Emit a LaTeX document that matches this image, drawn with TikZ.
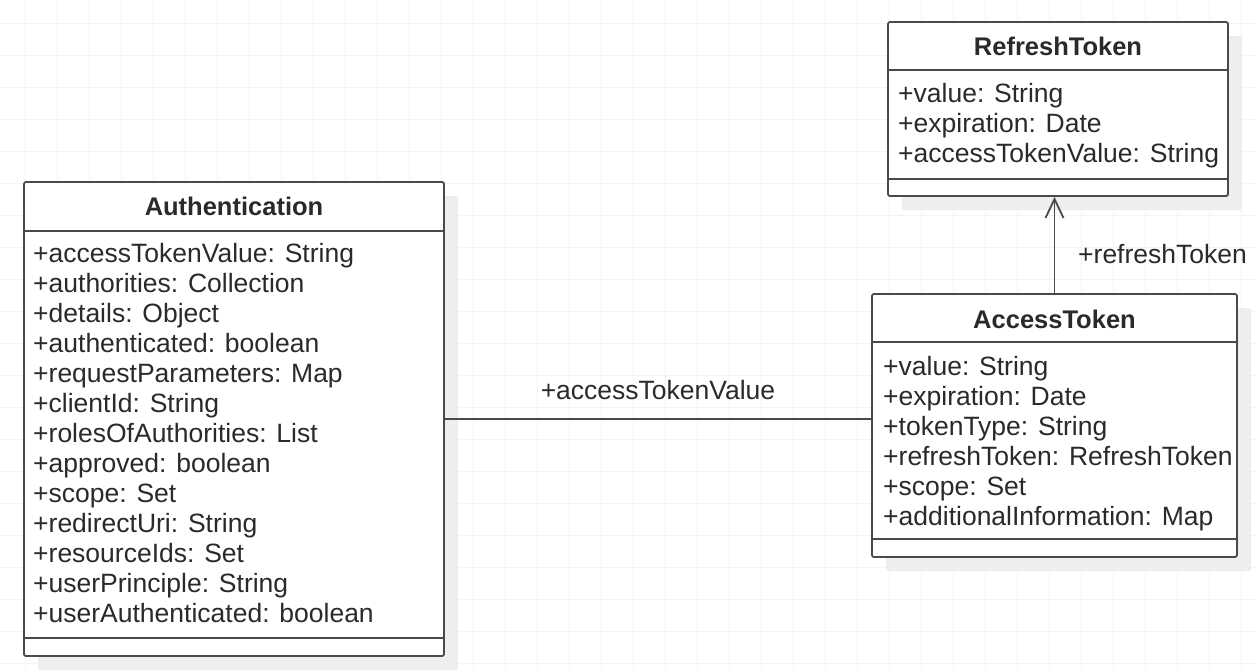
\documentclass[tikz,border=0pt]{standalone}
\usepackage{fontspec}
\setmainfont{Liberation Sans}
\usetikzlibrary{arrows.meta,calc}
\definecolor{linec}{HTML}{4A4A4A}
\definecolor{textc}{HTML}{2A2A2A}
\definecolor{gridc}{HTML}{F4F4F4}
\definecolor{shadowc}{HTML}{EEEEEE}
\tikzset{
 classbox/.style={draw=linec, line width=1.8pt, fill=white, rounded corners=2pt, inner sep=0pt},
 shadowbox/.style={fill=shadowc, draw=none, inner sep=0pt, rounded corners=2pt},
 sepline/.style={draw=linec, line width=1.8pt},
 gridline/.style={draw=gridc, line width=1pt},
 attr/.style={anchor=base west, inner sep=0pt, text=textc, font=\fontsize{26.5}{30}\selectfont},
 ttl/.style={anchor=base, inner sep=0pt, text=textc, font=\fontsize{25.5}{30}\selectfont\bfseries},
 assoc/.style={draw=linec, line width=1.8pt},
 lbl/.style={inner sep=0pt, text=textc, font=\fontsize{26.5}{30}\selectfont},
}
\begin{document}
\begin{tikzpicture}[x=1pt,y=-1pt]
\useasboundingbox (0,0) rectangle (1256,670);
\fill[white] (0,0) rectangle (1256,670);
\foreach \x in {25,57,...,1256} \draw[gridline] (\x,0) -- (\x,670);
\foreach \y in {23,55,...,670} \draw[gridline] (0,\y) -- (1256,\y);

% shadows
\node[shadowbox, minimum width=420pt, minimum height=474pt] (auths) at (248,433) {};
\node[shadowbox, minimum width=340pt, minimum height=174pt] (rts) at (1072,123) {};
\node[shadowbox, minimum width=365pt, minimum height=263pt] (accs) at (1068.5,439.5) {};

% boxes
\node[classbox, minimum width=420pt, minimum height=474pt] (auth) at (234,419) {};
\node[classbox, minimum width=340pt, minimum height=174pt] (rt) at (1058,109) {};
\node[classbox, minimum width=365pt, minimum height=263pt] (acc) at (1054.5,425.5) {};

% compartments
\draw[sepline] ($(auth.north west)+(0,50)$) -- ($(auth.north east)+(0,50)$);
\draw[sepline] ($(auth.south west)+(0,-19)$) -- ($(auth.south east)+(0,-19)$);
\draw[sepline] ($(rt.north west)+(0,49)$) -- ($(rt.north east)+(0,49)$);
\draw[sepline] ($(rt.south west)+(0,-18)$) -- ($(rt.south east)+(0,-18)$);
\draw[sepline] ($(acc.north west)+(0,49)$) -- ($(acc.north east)+(0,49)$);
\draw[sepline] ($(acc.south west)+(0,-19)$) -- ($(acc.south east)+(0,-19)$);

% titles
\node[ttl] (authT) at (234,215) {Authentication};
\node[ttl] (rtT) at (1058,55) {RefreshToken};
\node[ttl] (accT) at (1054.5,328) {AccessToken};

% attributes
\foreach \t [count=\i from 0] in {{+accessTokenValue: String},{+authorities: Collection},{+details: Object},{+authenticated: boolean},{+requestParameters: Map},{+clientId: String},{+rolesOfAuthorities: List},{+approved: boolean},{+scope: Set},{+redirectUri: String},{+resourceIds: Set},{+userPrinciple: String},{+userAuthenticated: boolean}}
  \node[attr] (authA\i) at (33,{262+30*\i}) {\t};
\foreach \t [count=\i from 0] in {{+value: String},{+expiration: Date},{+accessTokenValue: String}}
  \node[attr] (rtA\i) at (898,{102+30*\i}) {\t};
\foreach \t [count=\i from 0] in {{+value: String},{+expiration: Date},{+tokenType: String},{+refreshToken: RefreshToken},{+scope: Set},{+additionalInformation: Map}}
  \node[attr] (accA\i) at (883,{375+30*\i}) {\t};

% connectors
\draw[assoc] (auth.east) -- (auth.east -| acc.west);
\draw[assoc, -{Straight Barb[length=19pt,width=18pt]}] (acc.north) -- (acc.north |- rt.south);
\node[lbl, anchor=base] (lblA) at (658,399) {+accessTokenValue};
\node[lbl, anchor=base west] (lblR) at (1078,263) {+refreshToken};
\end{tikzpicture}
\end{document}
